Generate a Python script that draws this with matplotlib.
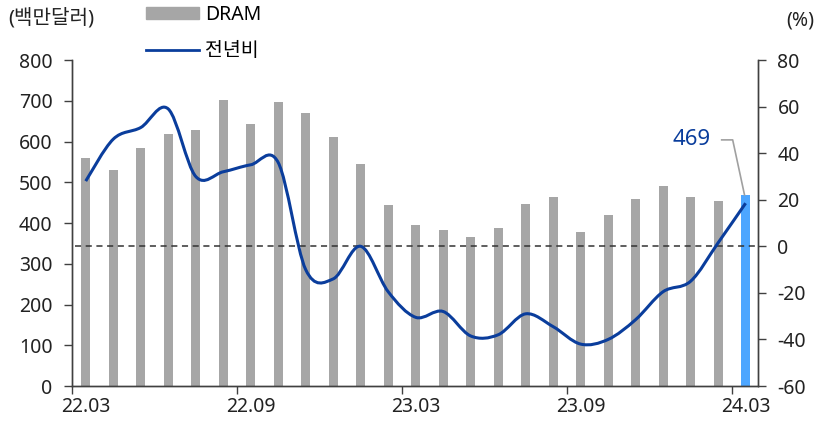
import numpy as np
import matplotlib
matplotlib.use('Agg')
import matplotlib.pyplot as plt
from matplotlib.path import Path
from matplotlib.patches import PathPatch, Patch
from matplotlib.lines import Line2D

plt.rcParams['font.family'] = ['Noto Sans', 'Noto Sans CJK KR', 'DejaVu Sans']
plt.rcParams['axes.unicode_minus'] = False

# 월별 DRAM 수출액 (백만달러) 및 전년비 (%)
months = ['22.03', '22.04', '22.05', '22.06', '22.07', '22.08', '22.09', '22.10',
          '22.11', '22.12', '23.01', '23.02', '23.03', '23.04', '23.05', '23.06',
          '23.07', '23.08', '23.09', '23.10', '23.11', '23.12', '24.01', '24.02', '24.03']
dram = [560, 529, 585, 619, 628, 702, 642, 696, 669, 612, 546, 443, 394,
        384, 365, 387, 447, 465, 379, 420, 458, 492, 465, 455, 469]
yoy = [28, 46, 51, 59, 30, 32, 35, 36, -10, -14, 0, -19.5, -30.5,
       -28, -38.5, -38, -29, -34.5, -42, -40, -31.5, -19.5, -15, 1.5, 18.5]
tick_labels = ['22.03', '22.09', '23.03', '23.09', '24.03']

grey = '#a6a6a6'
blue = '#0a3d9c'
light_blue = '#4da6ff'
axis_col = '#404040'
txt_col = '#222222'

fig = plt.figure(figsize=(8.16, 4.29), dpi=100)
ax = fig.add_axes([0.0882, 0.1002, 0.8407, 0.7599])
ax2 = ax.twinx()

x = np.arange(len(months))
colors = [grey] * (len(months) - 1) + [light_blue]
ax.bar(x, dram, width=0.33, color=colors, zorder=2)
ax.set_ylim(0, 800)
ax.set_yticks(range(0, 801, 100))
ax.set_xlim(-0.5, 24.45)

# 전년비: 부드러운 곡선 (Catmull-Rom -> Bezier)
pts = np.column_stack([x, yoy]).astype(float)
verts = [pts[0]]
codes = [Path.MOVETO]
n = len(pts)
for i in range(n - 1):
    p0 = pts[max(i - 1, 0)]
    p1 = pts[i]
    p2 = pts[i + 1]
    p3 = pts[min(i + 2, n - 1)]
    verts += [p1 + (p2 - p0) / 6, p2 - (p3 - p1) / 6, p2]
    codes += [Path.CURVE4] * 3
ax2.add_patch(PathPatch(Path(verts, codes), fill=False, edgecolor=blue, lw=2.2, zorder=4))
ax2.axhline(0, xmin=0.005, xmax=1, color='#333333', lw=1.1, ls=(0, (4, 3)), zorder=3)
ax2.set_ylim(-60, 80)
ax2.set_yticks(range(-60, 81, 20))

# x축: 눈금은 6개월 경계, 라벨은 막대 중앙
ax.set_xticks([-0.5, 5.5, 11.5, 17.5, 23.5])
ax.set_xticklabels([])
ax.set_xticks([0, 6, 12, 18, 24], minor=True)
ax.set_xticklabels(tick_labels, minor=True)
ax.tick_params(axis='x', which='major', length=6, width=1, color=axis_col)
ax.tick_params(axis='x', which='minor', length=0, labelsize=14, pad=8, labelcolor=txt_col)
ax.tick_params(axis='y', length=6, width=1, color=axis_col, labelsize=14, pad=8, labelcolor=txt_col)
ax2.tick_params(axis='y', length=6, width=1, color=axis_col, labelsize=14, pad=8, labelcolor=txt_col)

for a in (ax, ax2):
    a.spines['top'].set_visible(False)
    for s in ('left', 'right', 'bottom'):
        a.spines[s].set_color(axis_col)
        a.spines[s].set_linewidth(1)

# 최신값 표시
last = dram[-1]
ax.text(22.05, 604, str(last), color=blue, fontsize=16, ha='center', va='center')
ax.plot([23.13, 23.53, 23.96], [604, 604, last], color='#a0a0a0', lw=1.2,
        zorder=5, clip_on=False)

# 범례 및 단위
handles = [Patch(color=grey), Line2D([0], [0], color=blue, lw=2)]
fig.legend(handles, ['DRAM', '전년비'], loc='upper left', bbox_to_anchor=(0.158, 1.03),
           frameon=False, fontsize=14, handlelength=2.7, handleheight=0.6,
           labelspacing=0.85, handletextpad=0.3)
fig.text(0.01, 0.958, '(백만달러)', fontsize=14.5, va='center', ha='left', color=txt_col)
fig.text(0.998, 0.953, '(%)', fontsize=14, va='center', ha='right', color=txt_col)

fig.savefig('out.png', dpi=100)
